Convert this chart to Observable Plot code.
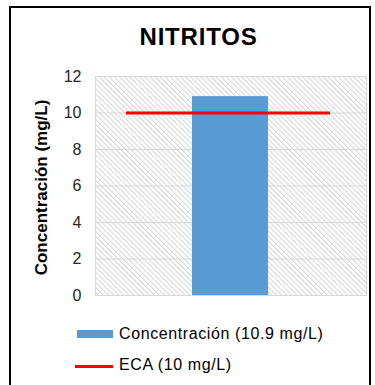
<!DOCTYPE html>
<html>
<head>
<meta charset="utf-8">
<script src="https://cdn.jsdelivr.net/npm/d3@7"></script>
<script src="https://cdn.jsdelivr.net/npm/@observablehq/plot@0.6"></script>
<style>
  html, body { margin: 0; padding: 0; background: #fff; }
  #wrap { position: relative; width: 375px; height: 385px; overflow: hidden; font-family: "Liberation Sans", Arial, sans-serif; }
  #border { position: absolute; left: 9px; top: 6px; width: 362px; height: 400px; border: 2px solid #000; box-sizing: border-box; }
  #title { position: absolute; left: 0; width: 397px; top: 25px; text-align: center; font-size: 24px; line-height: 24px; font-weight: bold; letter-spacing: 0.8px; color: #000; }
  #chart { position: absolute; left: 0; top: 50px; }
  .leg { position: absolute; left: 119px; font-size: 16px; line-height: 16px; letter-spacing: 0.6px; color: #000; white-space: nowrap; }
  .sw { position: absolute; }
</style>
</head>
<body>
<div id="wrap">
  <div id="border"></div>
  <div id="title"></div>
  <div id="chart"></div>
  <div class="sw" id="sw1" style="left:77px; top:330px; width:36px; height:8px; background:#5B9BD5;"></div>
  <div class="leg" id="leg1" style="top:325.5px;"></div>
  <div class="sw" id="sw2" style="left:75px; top:365px; width:38px; height:2.5px; background:#FF0000;"></div>
  <div class="leg" id="leg2" style="top:356.5px;"></div>
</div>
<script>
const title = "NITRITOS";
const categories = ["Nitritos"];
const concentracion = [10.9];
const eca = [10];
const yTicks = [0, 2, 4, 6, 8, 10, 12];
const yLabel = "Concentración (mg/L)";
const legendLabels = ["Concentración (10.9 mg/L)", "ECA (10 mg/L)"];

const bars = categories.map((c, i) => ({cat: c, value: concentracion[i]}));

document.getElementById("title").textContent = title;
document.getElementById("leg1").textContent = legendLabels[0];
document.getElementById("leg2").textContent = legendLabels[1];

const chart = Plot.plot({
  width: 375,
  height: 260,
  marginTop: 26,
  marginBottom: 15,
  marginLeft: 95,
  marginRight: 9,
  style: {fontFamily: "Liberation Sans, Arial, sans-serif", fontSize: "16px", color: "#262626", background: "transparent", overflow: "visible"},
  x: {domain: categories, padding: 0.558, axis: null},
  y: {domain: [0, 12], ticks: yTicks},
  marks: [
    Plot.frame({fill: "url(#hatch)", stroke: null}),
    Plot.gridY(yTicks, {stroke: "#D9D9D9", strokeOpacity: 1, strokeWidth: 1}),
    Plot.frame({stroke: "#D9D9D9", strokeWidth: 1}),
    Plot.axisY(yTicks, {tickSize: 0, tickPadding: 14, label: null, fill: "#262626", fontSize: 16}),
    Plot.text([yLabel], {frameAnchor: "left", dx: -54, dy: 1.5, rotate: -90, textAnchor: "middle", text: d => d, fontWeight: "bold", fontSize: 17, fill: "#000", letterSpacing: "0.3px"}),
    Plot.barY(bars, {x: "cat", y: "value", fill: "#5B9BD5"}),
    Plot.ruleY(eca, {stroke: "#FF0000", strokeWidth: 2.8, insetLeft: 31, insetRight: 36}),
    Plot.ruleY([0], {stroke: "#D9D9D9", strokeWidth: 1})
  ]
});

const svg = d3.select(chart);
const defs = svg.insert("defs", ":first-child");
const pat = defs.append("pattern")
  .attr("id", "hatch")
  .attr("patternUnits", "userSpaceOnUse")
  .attr("width", 3.6)
  .attr("height", 10)
  .attr("patternTransform", "rotate(-45)");
pat.append("rect").attr("width", 3.6).attr("height", 10).attr("fill", "#fff");
pat.append("line").attr("x1", 0.6).attr("y1", 0).attr("x2", 0.6).attr("y2", 10)
  .attr("stroke", "#D9D9D9").attr("stroke-width", 1.2);

document.getElementById("chart").appendChild(chart);
</script>
</body>
</html>
